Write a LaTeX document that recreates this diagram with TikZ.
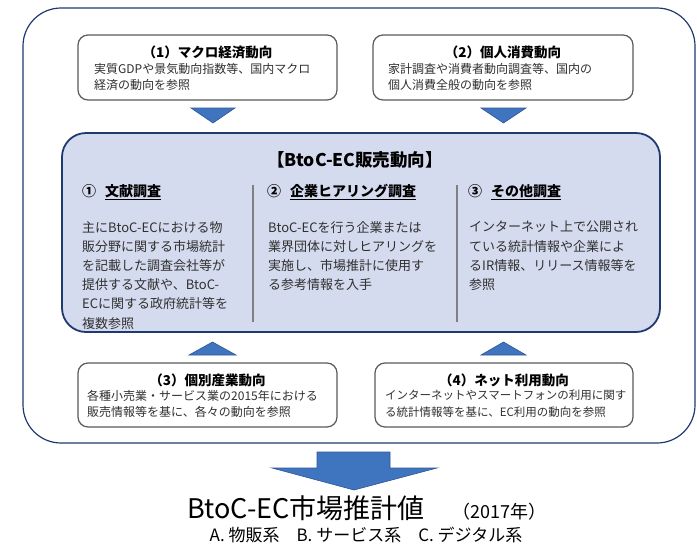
\documentclass[tikz,border=0pt]{standalone}
\usepackage{fontspec}
\setmainfont{Noto Sans CJK JP}
\definecolor{navy}{HTML}{1F3A6E}
\definecolor{mainfill}{HTML}{D5DBEF}
\definecolor{arrowblue}{HTML}{3F74BE}
\definecolor{arrowedge}{HTML}{2F5597}
\definecolor{boxgray}{HTML}{5A5A5A}
\definecolor{bodytext}{HTML}{303030}
\definecolor{divgray}{HTML}{808080}
\tikzset{
  smallbox/.style={draw=boxgray, line width=1.2pt, rounded corners=10pt, fill=white, inner sep=0pt},
  mainbox/.style={draw=navy, line width=1.8pt, rounded corners=24pt, fill=mainfill, inner sep=0pt},
  outerframe/.style={draw=navy, line width=1.2pt, rounded corners=38pt, inner sep=0pt},
  boxtitle/.style={font=\fontsize{13.5}{16}\selectfont\bfseries, inner sep=0pt, text=black},
  boxbody/.style={font=\fontsize{12}{16.5}\selectfont, inner sep=0pt, align=left, anchor=north west, text=bodytext},
  colhead/.style={font=\fontsize{14}{16}\selectfont\bfseries, inner sep=0pt, anchor=west, text=black},
  colbody/.style={font=\fontsize{13}{19.2}\selectfont, inner sep=0pt, align=left, anchor=north west, text=bodytext},
  tri/.style={fill=arrowblue, draw=arrowedge, line width=0.6pt},
  divider/.style={draw=divgray, line width=1.2pt}
}
\begin{document}
\begin{tikzpicture}[x=1pt,y=-1pt]
\useasboundingbox (0,0) rectangle (697,555);
% outer frame
\node[outerframe, minimum width=672pt, minimum height=435pt] (outer) at (359,225.5) {};
% top boxes
\node[smallbox, minimum width=259pt, minimum height=65pt] (b1) at (207.5,67.5) {};
\node[smallbox, minimum width=260pt, minimum height=65pt] (b2) at (503,67.5) {};
\node[boxtitle] (b1t) at (207.5,52) {（1）マクロ経済動向};
\node[boxbody] (b1b) at (94,63) {実質GDPや景気動向指数等、国内マクロ\\経済の動向を参照};
\node[boxtitle] (b2t) at (503,52) {（2）個人消費動向};
\node[boxbody] (b2b) at (388,63) {家計調査や消費者動向調査等、国内の\\個人消費全般の動向を参照};
% down triangles
\coordinate (d1) at (213,123);
\coordinate (d2) at (503.5,123);
\draw[tri] (191,108) -- (235,108) -- (d1) -- cycle;
\draw[tri] (481,108) -- (526,108) -- (d2) -- cycle;
% main box
\node[mainbox, minimum width=598pt, minimum height=199pt] (main) at (361,232.5) {};
\node[font=\fontsize{17.5}{20}\selectfont\bfseries, inner sep=0pt] (mt) at (355,160) {【BtoC-EC販売動向】};
\coordinate (v1a) at (253,185);
\coordinate (v1b) at (253,322);
\coordinate (v2a) at (457,185);
\coordinate (v2b) at (457,322);
\draw[divider] (v1a) -- (v1b);
\draw[divider] (v2a) -- (v2b);
\node[colhead] (h1) at (82,192) {①\hspace{9pt}\underline{文献調査}};
\node[colhead] (h2) at (267,192) {②\hspace{9pt}\underline{企業ヒアリング調査}};
\node[colhead] (h3) at (468,192) {③\hspace{9pt}\underline{その他調査}};
\node[colbody] (c1) at (82,221) {主にBtoC-ECにおける物\\販分野に関する市場統計\\を記載した調査会社等が\\提供する文献や、BtoC-\\ECに関する政府統計等を\\複数参照};
\node[colbody] (c2) at (268,221) {BtoC-ECを行う企業または\\業界団体に対しヒアリングを\\実施し、市場推計に使用す\\る参考情報を入手};
\node[colbody] (c3) at (469,221) {インターネット上で公開され\\ている統計情報や企業によ\\るIR情報、リリース情報等を\\参照};
% up triangles
\coordinate (u1) at (212.5,342);
\coordinate (u2) at (503.5,342);
\draw[tri] (189,355) -- (236,355) -- (u1) -- cycle;
\draw[tri] (481,355) -- (526,355) -- (u2) -- cycle;
% bottom boxes
\node[smallbox, minimum width=259pt, minimum height=64pt] (b3) at (207.5,395) {};
\node[smallbox, minimum width=258pt, minimum height=64pt] (b4) at (504,395) {};
\node[boxtitle] (b3t) at (207.5,380) {（3）個別産業動向};
\node[boxbody] (b3b) at (87,390) {各種小売業・サービス業の2015年における\\販売情報等を基に、各々の動向を参照};
\node[boxtitle] (b4t) at (504,380) {（4）ネット利用動向};
\node[boxbody, font=\fontsize{11.5}{16.5}\selectfont] (b4b) at (385,390) {インターネットやスマートフォンの利用に関す\\る統計情報等を基に、EC利用の動向を参照};
% big arrow
\coordinate (bt) at (354,490);
\draw[tri] (317,452) -- (390,452) -- (390,468) -- (437,468) -- (bt) -- (272,468) -- (317,468) -- cycle;
% result text
\node[font=\fontsize{27}{30}\selectfont, inner sep=0pt, anchor=base west] (res) at (187,518) {BtoC-EC市場推計値};
\node[font=\fontsize{18}{20}\selectfont, inner sep=0pt, anchor=base west] (yr) at (452,518) {（2017年）};
\node[font=\fontsize{17}{20}\selectfont, inner sep=0pt, anchor=base] (cats) at (366,541) {A. 物販系\hspace{17pt}B. サービス系\hspace{17pt}C. デジタル系};
\end{tikzpicture}
\end{document}
